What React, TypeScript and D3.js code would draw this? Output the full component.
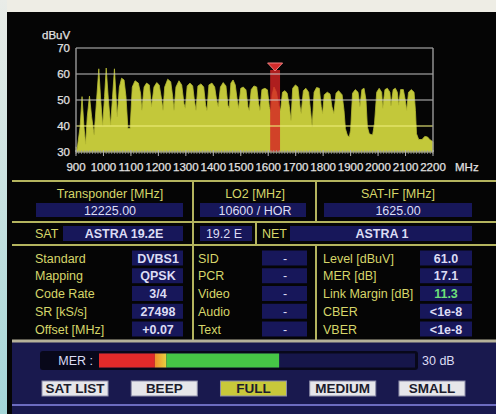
import React from "react";
import * as d3 from "d3";

// spectrum envelope (MHz, dBuV)
const specFreq = [
  900, 904, 915, 922, 929, 935, 941, 949, 957, 966, 975, 983, 990, 997, 1004, 1010, 1018, 1026, 1033, 1040,
  1046, 1050, 1058, 1066, 1075, 1082, 1089, 1097, 1105, 1115, 1127, 1135, 1140, 1148, 1157, 1167, 1175, 1184,
  1194, 1203, 1212, 1217, 1223, 1234, 1245, 1252, 1257, 1264, 1275, 1285, 1293, 1298, 1305, 1315, 1325, 1331,
  1337, 1344, 1355, 1365, 1372, 1377, 1384, 1395, 1405, 1412, 1418, 1426, 1436, 1446, 1453, 1458, 1464, 1472,
  1480, 1487, 1492, 1500, 1509, 1519, 1526, 1531, 1538, 1548, 1558, 1565, 1570, 1577, 1588, 1597, 1604, 1609,
  1614, 1621, 1630, 1638, 1645, 1652, 1661, 1669, 1677, 1683, 1689, 1699, 1708, 1716, 1720, 1728, 1737, 1747,
  1754, 1760, 1767, 1776, 1786, 1793, 1798, 1804, 1815, 1825, 1832, 1839, 1847, 1856, 1869, 1876, 1881, 1888,
  1895, 1900, 1907, 1917, 1927, 1934, 1941, 1949, 1956, 1961, 1968, 1980, 1987, 1995, 2004, 2013, 2017, 2025,
  2034, 2043, 2047, 2055, 2063, 2070, 2075, 2082, 2092, 2099, 2104, 2111, 2121, 2131, 2136, 2140, 2148, 2160,
  2170, 2180, 2188, 2200,
];
const specLevel = [
  32, 31, 39.7, 51.3, 39.7, 33, 43.5, 51.5, 43.5, 36.5, 50, 62, 50, 40, 51.3, 62.3, 50, 40.3, 51, 62,
  51, 43.5, 55, 58.4, 57.7, 51.3, 39, 39, 55, 57.4, 56.5, 52.6, 46, 55, 56.5, 55.8, 47.4, 55,
  56.7, 55.8, 50, 46, 55, 58, 57, 51.3, 46, 55, 57.4, 55.8, 48.7, 46.8, 55.4, 56.5, 55.4, 50,
  46, 55.4, 56.2, 55, 48, 46, 55.8, 56.5, 55, 50, 47.4, 55, 56.7, 55.4, 48, 46.8, 56.5, 57.7,
  55.8, 50, 46.8, 54.5, 55, 53.9, 47.4, 46, 54, 55.4, 55, 48.7, 46, 54, 54.5, 53.9, 47.4, 45.5,
  52, 55, 53, 48, 46, 53, 53.6, 52.6, 47.4, 42, 54.5, 55.8, 55, 47.4, 44.8, 53.6, 54.5, 53,
  46, 39.7, 53, 54.8, 54.5, 47.4, 44.8, 52, 53, 52.3, 47.4, 44.8, 52.6, 53.6, 52, 46, 39, 36.5,
  35.8, 38.4, 52.6, 54, 53, 47.4, 54, 54.5, 50, 39.7, 37, 36.5, 41, 53, 54.5, 53, 46.8, 54,
  54.5, 53, 47.7, 54, 54.5, 53, 48, 54, 54, 50, 46, 53, 54, 53, 46, 37, 34.8, 34.8,
  36, 35.8, 34.8, 33.9,
];
const yTicks = [30, 40, 50, 60, 70];
const xTicks = [900, 1000, 1100, 1200, 1300, 1400, 1500, 1600, 1700, 1800, 1900, 2000, 2100, 2200];
const markerFreq = 1625;
const markerWidthMHz = 36;

const headLabels = ["Transponder [MHz]", "LO2 [MHz]", "SAT-IF [MHz]"];
const headValues = ["12225.00", "10600 / HOR", "1625.00"];
const satName = "ASTRA 19.2E";
const satPos = "19.2 E";
const netName = "ASTRA 1";
const leftLabels = ["Standard", "Mapping", "Code Rate", "SR [kS/s]", "Offset [MHz]"];
const leftValues = ["DVBS1", "QPSK", "3/4", "27498", "+0.07"];
const midLabels = ["SID", "PCR", "Video", "Audio", "Text"];
const midValues = ["-", "-", "-", "-", "-"];
const rightLabels = ["Level [dBuV]", "MER [dB]", "Link Margin [dB]", "CBER", "VBER"];
const rightValues = ["61.0", "17.1", "11.3", "<1e-8", "<1e-8"];
const merValue = 17.1;
const merMax = 30;
const merRedEnd = 5.3;
const merYellowEnd = 6.4;
const buttons = ["SAT LIST", "BEEP", "FULL", "MEDIUM", "SMALL"];
const activeButton = "FULL";

const W = 496;
const H = 414;
const narrow = "'Liberation Sans Narrow', 'Arial Narrow', sans-serif";
const sans = "'Liberation Sans', Arial, sans-serif";
const LINE = "#b4b45e";
const LABEL = "#d6d66a";
const VALUE = "#dcdcf4";
const BOX = "#17175a";

export default function App() {
  const x = d3.scaleLinear([900, 2200], [76, 433]);
  const y = d3.scaleLinear([30, 70], [152, 48]);
  const idx = d3.range(specFreq.length);
  const area = d3
    .area<number>()
    .x((i) => x(specFreq[i]))
    .y0(y(30))
    .y1((i) => y(specLevel[i]));
  const minorTicks = d3.range(900, 2201, 10);

  const rowY = d3.scaleLinear([0, 4], [258, 329]);
  const mer = d3.scaleLinear([0, merMax], [99, 415]);
  const btn = d3.scaleBand(buttons, [42, 465]).paddingInner(0.26);

  const mx = x(markerFreq);
  const mw = x(900 + markerWidthMHz) - x(900);

  return (
    <svg width={W} height={H} style={{ position: "absolute", left: 0, top: 0 }}>
      <defs>
        <linearGradient id="side" x1="0" y1="0" x2="0" y2="1">
          <stop offset="0" stopColor="#e9ece8" />
          <stop offset="1" stopColor="#a4d6d8" />
        </linearGradient>
        <linearGradient id="amber" x1="0" y1="0" x2="1" y2="0">
          <stop offset="0" stopColor="#f0902a" />
          <stop offset="1" stopColor="#e8d040" />
        </linearGradient>
      </defs>
      <rect width={W} height={H} fill="#eeede5" />
      <rect width={7} height={H} fill="url(#side)" />
      <rect x={7} y={12} width={W - 7} height={H - 12} fill="#050505" />

      {/* spectrum */}
      <path d={area(idx) ?? ""} fill="#c3c83a" stroke="#b6bb34" strokeWidth={0.8} />
      <rect x={mx - mw / 2} y={70} width={mw} height={y(30) - 70} fill="#d42424" opacity={0.82} />
      <path
        d={`M${mx - 7.5},63 L${mx + 7.5},63 L${mx},71 Z`}
        fill="#d02a2a"
        stroke="#f08080"
        strokeWidth={1}
      />
      {yTicks.slice(1).map((t) => (
        <line
          key={t}
          x1={76}
          x2={433}
          y1={y(t)}
          y2={y(t)}
          stroke={t === 40 ? "rgba(236,236,120,0.75)" : "rgba(210,210,210,0.62)"}
          strokeWidth={1.4}
        />
      ))}
      <line x1={76} x2={76} y1={48} y2={152} stroke="#9a9a9a" strokeWidth={1.4} />
      <line x1={433} x2={433} y1={48} y2={152} stroke="#9a9a9a" strokeWidth={1.4} />
      <line x1={76} x2={433} y1={152} y2={152} stroke="#9a9a9a" strokeWidth={1.2} />
      {minorTicks.map((t) => (
        <line key={t} x1={x(t)} x2={x(t)} y1={150} y2={154} stroke="#a0a0a0" strokeWidth={0.7} />
      ))}
      {xTicks.map((t) => (
        <line key={t} x1={x(t)} x2={x(t)} y1={150} y2={156} stroke="#b0b0b0" strokeWidth={1} />
      ))}
      <g fontFamily={narrow} fontSize={11.5} fill="#e2e2e2" stroke="#e2e2e2" strokeWidth={0.25}>
        {yTicks.map((t) => (
          <text key={t} x={70} y={y(t)} dy="0.36em" textAnchor="end">
            {t}
          </text>
        ))}
        {xTicks.map((t) => (
          <text key={t} x={x(t)} y={167} dy="0.36em" textAnchor="middle">
            {t}
          </text>
        ))}
        <text x={42} y={35} dy="0.36em">dBuV</text>
        <text x={455} y={167} dy="0.36em">MHz</text>
      </g>

      {/* info table */}
      <g stroke={LINE} strokeWidth={2}>
        <line x1={12} x2={W} y1={181} y2={181} />
        <line x1={12} x2={W} y1={222} y2={222} />
        <line x1={12} x2={W} y1={245} y2={245} />
        <line x1={193} x2={193} y1={181} y2={340} />
        <line x1={316} x2={316} y1={181} y2={222} />
        <line x1={316} x2={316} y1={245} y2={340} />
        <line x1={256} x2={256} y1={222} y2={245} />
      </g>
      <g fill={BOX}>
        <rect x={36} y={203} width={147} height={14} />
        <rect x={200} y={203} width={106} height={14} />
        <rect x={324} y={203} width={148} height={14} />
        <rect x={63} y={226} width={120} height={15} />
        <rect x={200} y={226} width={52} height={15} />
        <rect x={290} y={226} width={182} height={15} />
        {leftValues.map((_, i) => (
          <g key={i}>
            <rect x={132} y={rowY(i) - 7.5} width={51} height={15} />
            <rect x={262} y={rowY(i) - 7.5} width={45} height={15} />
            <rect x={420} y={rowY(i) - 7.5} width={52} height={15} />
          </g>
        ))}
      </g>
      <g fontFamily={sans} fontSize={12.5}>
        {headLabels.map((s, i) => (
          <text key={s} x={[110, 255, 398][i]} y={193} dy="0.36em" textAnchor="middle" fill={LABEL}>
            {s}
          </text>
        ))}
        {headValues.map((s, i) => (
          <text key={s} x={[110, 255, 398][i]} y={210} dy="0.36em" textAnchor="middle" fill={VALUE}>
            {s}
          </text>
        ))}
        <text x={35} y={233.5} dy="0.36em" fill={LABEL}>SAT</text>
        <text x={124} y={233.5} dy="0.36em" textAnchor="middle" fill={VALUE} fontWeight="bold">
          {satName}
        </text>
        <text x={224} y={233.5} dy="0.36em" textAnchor="middle" fill={VALUE}>{satPos}</text>
        <text x={262} y={233.5} dy="0.36em" fill={LABEL}>NET</text>
        <text x={382} y={233.5} dy="0.36em" textAnchor="middle" fill={VALUE} fontWeight="bold">
          {netName}
        </text>
        {leftLabels.map((s, i) => (
          <g key={s}>
            <text x={35} y={rowY(i)} dy="0.36em" fill={LABEL}>{s}</text>
            <text x={158} y={rowY(i)} dy="0.36em" textAnchor="middle" fill={VALUE} fontWeight="bold">
              {leftValues[i]}
            </text>
            <text x={198} y={rowY(i)} dy="0.36em" fill={LABEL}>{midLabels[i]}</text>
            <text x={285} y={rowY(i)} dy="0.36em" textAnchor="middle" fill={VALUE}>
              {midValues[i]}
            </text>
            <text x={323} y={rowY(i)} dy="0.36em" fill={LABEL}>{rightLabels[i]}</text>
            <text
              x={446}
              y={rowY(i)}
              dy="0.36em"
              textAnchor="middle"
              fontWeight="bold"
              fill={rightLabels[i].startsWith("Link") ? "#6ee07a" : VALUE}
            >
              {rightValues[i]}
            </text>
          </g>
        ))}
      </g>

      {/* MER bar and buttons */}
      <rect x={12} y={341} width={W - 12} height={H - 341} fill="#19194e" />
      <line x1={12} x2={W} y1={341} y2={341} stroke="#b6b29a" strokeWidth={3} />
      <line x1={12} x2={W} y1={405} y2={405} stroke="#6c6cc0" strokeWidth={2} />
      <rect x={40} y={351} width={378} height={19} rx={3} fill="#08081a" />
      <rect x={mer(0)} y={353.5} width={mer(merMax) - mer(0)} height={14} fill="#16164a" />
      <rect x={mer(0)} y={353.5} width={mer(merRedEnd) - mer(0)} height={14} fill="#e22a2a" />
      <rect
        x={mer(merRedEnd)}
        y={353.5}
        width={mer(merYellowEnd) - mer(merRedEnd)}
        height={14}
        fill="url(#amber)"
      />
      <rect
        x={mer(merYellowEnd)}
        y={353.5}
        width={mer(merValue) - mer(merYellowEnd)}
        height={14}
        fill="#46c646"
      />
      <g fontFamily={sans} fontSize={12.5} fill={VALUE}>
        <text x={93} y={360.5} dy="0.36em" textAnchor="end">MER :</text>
        <text x={422} y={360.5} dy="0.36em">{merMax} dB</text>
      </g>
      {buttons.map((b) => (
        <g key={b}>
          <rect
            x={btn(b)}
            y={381}
            width={btn.bandwidth()}
            height={15}
            fill={b === activeButton ? "#c8c83a" : "#e6e6ea"}
            stroke="#8c8ca8"
            strokeWidth={1}
          />
          <text
            x={(btn(b) ?? 0) + btn.bandwidth() / 2}
            y={388.5}
            dy="0.36em"
            textAnchor="middle"
            fontFamily={narrow}
            fontSize={13.5}
            fontWeight="bold"
            fill="#1c1c2c"
          >
            {b}
          </text>
        </g>
      ))}
    </svg>
  );
}
